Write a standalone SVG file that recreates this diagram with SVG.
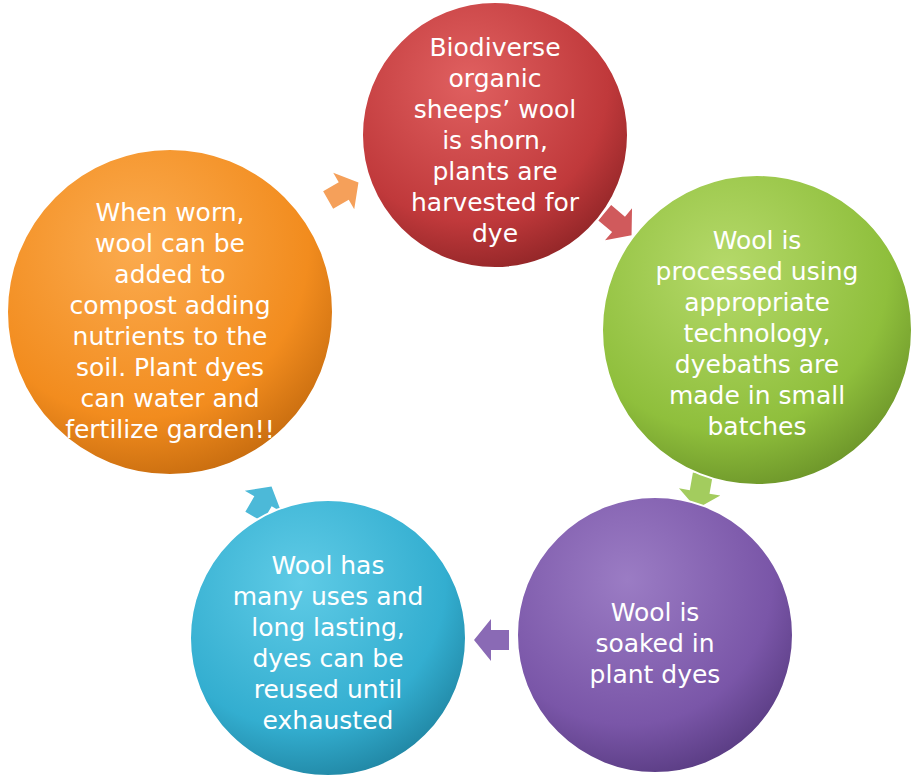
<svg xmlns="http://www.w3.org/2000/svg" width="916" height="778" viewBox="0 0 916 778">
<defs>
<radialGradient id="gr" cx="0.4" cy="0.3" r="0.75"><stop offset="0" stop-color="#e06060"/><stop offset="0.7" stop-color="#c0393b"/><stop offset="1" stop-color="#8e2426"/></radialGradient>
<radialGradient id="gg" cx="0.4" cy="0.3" r="0.75"><stop offset="0" stop-color="#b5d96a"/><stop offset="0.7" stop-color="#8fbf3c"/><stop offset="1" stop-color="#6a9228"/></radialGradient>
<radialGradient id="gp" cx="0.4" cy="0.3" r="0.75"><stop offset="0" stop-color="#9b7cc4"/><stop offset="0.7" stop-color="#7a56a8"/><stop offset="1" stop-color="#573a80"/></radialGradient>
<radialGradient id="gb" cx="0.4" cy="0.3" r="0.75"><stop offset="0" stop-color="#5fcbe6"/><stop offset="0.7" stop-color="#33aed0"/><stop offset="1" stop-color="#1f83a0"/></radialGradient>
<radialGradient id="go" cx="0.4" cy="0.3" r="0.75"><stop offset="0" stop-color="#fbab4f"/><stop offset="0.7" stop-color="#f28c1e"/><stop offset="1" stop-color="#c46a0e"/></radialGradient>
<polygon id="arr" points="-16,-10 2,-10 2,-21 19,0 2,21 2,10 -16,10"/>
</defs>
<style>
circle{stroke:#fff;stroke-width:2}
text{font-family:"DejaVu Sans","Liberation Sans",sans-serif;font-size:25px;fill:#fff;text-anchor:middle}
</style>
<g id="connectors">
<use href="#arr" fill="#f5a05a" transform="translate(342,192) rotate(-30)"/>
<use href="#arr" fill="#d05a5c" transform="translate(617,223) rotate(40)"/>
<use href="#arr" fill="#a3cc5e" transform="translate(700,490) rotate(100)"/>
<use href="#arr" fill="#8a6ab5" transform="translate(493,640) rotate(180)"/>
<use href="#arr" fill="#4cb9d8" transform="translate(262,503) rotate(-60)"/>
</g>
<g id="n1"><circle cx="495" cy="135" r="133" fill="url(#gr)"/>
<text x="495" y="56">Biodiverse</text><text x="495" y="87">organic</text><text x="495" y="118">sheeps’ wool</text><text x="495" y="149">is shorn,</text><text x="495" y="180">plants are</text><text x="495" y="211">harvested for</text><text x="495" y="242">dye</text></g>
<g id="n2"><circle cx="757" cy="330" r="155" fill="url(#gg)"/>
<text x="757" y="249">Wool is</text><text x="757" y="280">processed using</text><text x="757" y="311">appropriate</text><text x="757" y="342">technology,</text><text x="757" y="373">dyebaths are</text><text x="757" y="404">made in small</text><text x="757" y="435">batches</text></g>
<g id="n3"><circle cx="655" cy="635" r="138" fill="url(#gp)"/>
<text x="655" y="621">Wool is</text><text x="655" y="652">soaked in</text><text x="655" y="683">plant dyes</text></g>
<g id="n4"><circle cx="328" cy="638" r="138" fill="url(#gb)"/>
<text x="328" y="574">Wool has</text><text x="328" y="605">many uses and</text><text x="328" y="636">long lasting,</text><text x="328" y="667">dyes can be</text><text x="328" y="698">reused until</text><text x="328" y="729">exhausted</text></g>
<g id="n5"><circle cx="170" cy="312" r="163" fill="url(#go)"/>
<text x="170" y="221">When worn,</text><text x="170" y="252">wool can be</text><text x="170" y="283">added to</text><text x="170" y="314">compost adding</text><text x="170" y="345">nutrients to the</text><text x="170" y="376">soil. Plant dyes</text><text x="170" y="407">can water and</text><text x="170" y="438">fertilize garden!!</text></g>
</svg>
